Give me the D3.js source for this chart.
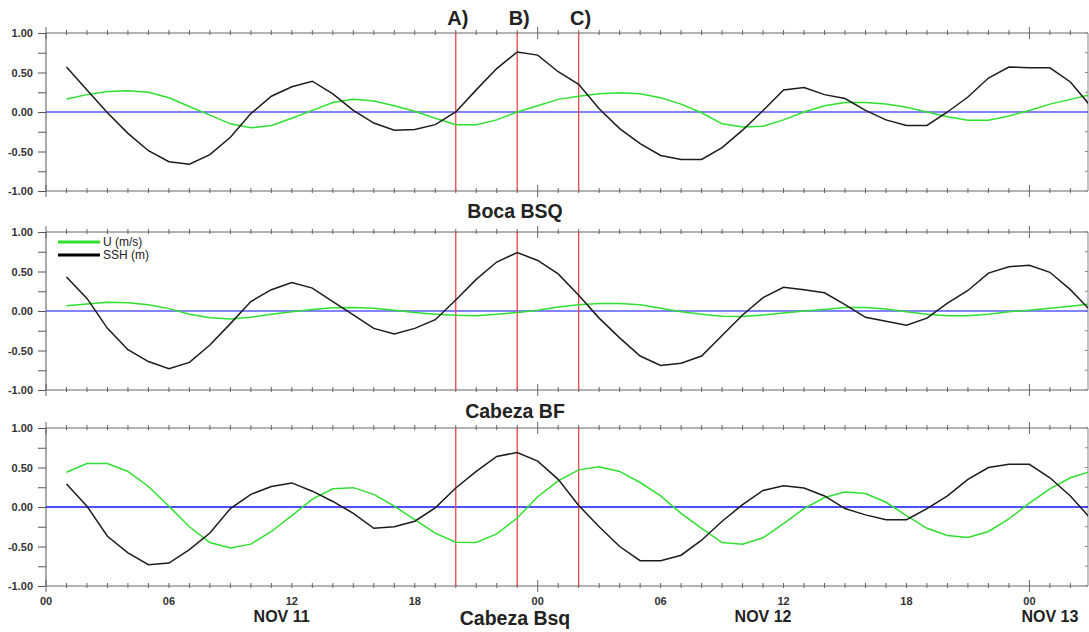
<!DOCTYPE html>
<html lang='en'>
  <head>
    <meta charset='utf-8'>
    <title>U and SSH - Boca BSQ / Cabeza BF / Cabeza Bsq</title>
    <script type='text/javascript' src='https://cdn.jsdelivr.net/npm/d3@7'></script>
    <style type='text/css'>
    body{ margin: 0; background: #fff; }
    svg{ font-family: 'Liberation Sans', Arial, sans-serif; }
    .axis path{ stroke: #555; }
    .axis line{ stroke: #555; }
    .axis text{ font-size: 11px; font-weight: bold; fill: #333; }
    </style>
  </head>
  <body>
    <script type='text/javascript'>

    var w = 1089;
    var h = 632;

    // hourly samples, hour 1 .. hour 51 after NOV 11 00
    var hours = d3.range(1, 52);

    var sshBoca = [0.57, 0.28, -0.01, -0.27, -0.49, -0.63, -0.66, -0.54, -0.32, -0.02,
                   0.20, 0.32, 0.39, 0.23, 0.02, -0.14, -0.23, -0.22, -0.16, 0.00,
                   0.28, 0.55, 0.76, 0.72, 0.51, 0.35, 0.04, -0.21, -0.40, -0.55,
                   -0.60, -0.60, -0.45, -0.23, 0.02, 0.28, 0.31, 0.22, 0.17, 0.02,
                   -0.10, -0.17, -0.17, 0.00, 0.19, 0.43, 0.57, 0.56, 0.56, 0.38, 0.07];
    var uBoca = [0.165, 0.22, 0.26, 0.27, 0.25, 0.18, 0.07, -0.04, -0.15, -0.20,
                 -0.17, -0.08, 0.02, 0.12, 0.16, 0.14, 0.08, 0.01, -0.08, -0.16,
                 -0.16, -0.10, 0.00, 0.08, 0.16, 0.20, 0.23, 0.245, 0.23, 0.18,
                 0.10, -0.01, -0.15, -0.19, -0.18, -0.10, 0.00, 0.08, 0.12, 0.12,
                 0.10, 0.06, 0.00, -0.06, -0.105, -0.105, -0.05, 0.02, 0.10, 0.16, 0.22];

    var sshBF = [0.43, 0.16, -0.22, -0.49, -0.64, -0.73, -0.65, -0.43, -0.16, 0.12,
                 0.27, 0.36, 0.29, 0.12, -0.05, -0.22, -0.29, -0.22, -0.11, 0.14,
                 0.40, 0.62, 0.74, 0.64, 0.47, 0.20, -0.09, -0.34, -0.57, -0.69,
                 -0.66, -0.57, -0.31, -0.05, 0.17, 0.30, 0.27, 0.23, 0.08, -0.08,
                 -0.13, -0.18, -0.09, 0.10, 0.26, 0.48, 0.56, 0.58, 0.49, 0.27, 0.00];
    var uBF = [0.065, 0.09, 0.11, 0.105, 0.08, 0.03, -0.04, -0.085, -0.10, -0.08,
               -0.04, -0.01, 0.02, 0.04, 0.045, 0.035, 0.01, -0.02, -0.04, -0.055,
               -0.06, -0.04, -0.02, 0.01, 0.05, 0.08, 0.095, 0.095, 0.08, 0.035,
               -0.01, -0.04, -0.065, -0.07, -0.05, -0.025, 0.00, 0.02, 0.045, 0.045,
               0.025, -0.01, -0.04, -0.06, -0.06, -0.04, -0.01, 0.01, 0.035, 0.06, 0.09];

    var sshBsq = [0.29, 0.01, -0.37, -0.58, -0.73, -0.71, -0.54, -0.33, -0.02, 0.16,
                  0.26, 0.305, 0.20, 0.07, -0.08, -0.27, -0.25, -0.18, -0.01, 0.24,
                  0.45, 0.64, 0.69, 0.58, 0.35, 0.02, -0.25, -0.50, -0.68, -0.68,
                  -0.61, -0.42, -0.18, 0.03, 0.21, 0.27, 0.24, 0.14, -0.02, -0.10,
                  -0.16, -0.16, -0.02, 0.14, 0.35, 0.50, 0.54, 0.54, 0.37, 0.14, -0.15];
    var uBsq = [0.44, 0.55, 0.55, 0.45, 0.26, 0.01, -0.25, -0.45, -0.52, -0.47,
                -0.31, -0.11, 0.10, 0.23, 0.245, 0.16, 0.01, -0.16, -0.33, -0.445,
                -0.45, -0.34, -0.14, 0.13, 0.33, 0.47, 0.51, 0.45, 0.31, 0.14,
                -0.08, -0.27, -0.45, -0.47, -0.39, -0.21, -0.02, 0.12, 0.19, 0.17,
                0.06, -0.11, -0.27, -0.36, -0.385, -0.31, -0.15, 0.05, 0.23, 0.37, 0.45];

    var titles = ['Boca BSQ', 'Cabeza BF', 'Cabeza Bsq'];
    var sshSeries = [sshBoca, sshBF, sshBsq];
    var uSeries = [uBoca, uBF, uBsq];

    // red event markers (hours) and their labels
    var markerHours = [20, 23, 26];
    var markerLabels = ['A)', 'B)', 'C)'];

    var hourTicks = [0, 6, 12, 18, 24, 30, 36, 42, 48];
    var hourTickLabels = ['00', '06', '12', '18', '00', '06', '12', '18', '00'];
    var dateHours = [11.5, 35, 49];
    var dateLabels = ['NOV 11', 'NOV 12', 'NOV 13'];

    var yTicks = [-1, -0.75, -0.5, -0.25, 0, 0.25, 0.5, 0.75, 1];
    var yLabelled = [-1, -0.5, 0, 0.5, 1];

    var legendNames = ['U (m/s)', 'SSH (m)'];

    var green = '#2fe02f';
    var zeroBlue = ['#5a5aff', '#5a5aff', '#1414ff'];

    var left = 46, right = 1088;
    var panelTop = [33, 232, 428];
    var panelH = 158;
    var titleGap = [27, 28, 39];

    var svg = d3.select('body')
                .append('svg')
                .attr('width', w)
                .attr('height', h);

    var xScale = d3.scaleLinear()
                   .domain([0, 50.86])
                   .range([left, right]);

    svg.append('defs').append('clipPath')
       .attr('id', 'plotclip')
       .append('rect')
       .attr('x', left)
       .attr('y', 0)
       .attr('width', right - left)
       .attr('height', h);

    var allHours = d3.range(0, 51);

    panelTop.forEach(function(top, p){
      var yScale = d3.scaleLinear()
                     .domain([-1, 1])
                     .range([top + panelH, top]);

      var g = svg.append('g');

      // top and bottom frame with hourly ticks
      [top, top + panelH].forEach(function(yy){
        g.append('line')
         .attr('x1', left).attr('x2', right)
         .attr('y1', yy).attr('y2', yy)
         .attr('stroke', '#666').attr('stroke-width', 1);
        g.selectAll(null)
         .data(allHours)
         .enter()
         .append('line')
         .attr('x1', function(d){ return xScale(d); })
         .attr('x2', function(d){ return xScale(d); })
         .attr('y1', function(d){ return yy - (d % 24 === 0 ? 6 : 3); })
         .attr('y2', function(d){ return yy + (d % 24 === 0 ? 6 : 2); })
         .attr('stroke', '#666');
      });

      // right frame
      g.append('line')
       .attr('x1', right).attr('x2', right)
       .attr('y1', top).attr('y2', top + panelH)
       .attr('stroke', '#888');
      g.selectAll(null)
       .data(yTicks)
       .enter()
       .append('line')
       .attr('x1', right - 3).attr('x2', right)
       .attr('y1', function(d){ return yScale(d); })
       .attr('y2', function(d){ return yScale(d); })
       .attr('stroke', '#888');

      // left axis
      var yAxis = d3.axisLeft(yScale)
                    .tickValues(yTicks)
                    .tickSize(8)
                    .tickPadding(5)
                    .tickFormat(function(d){
                      return yLabelled.indexOf(d) >= 0 ? d.toFixed(2) : '';
                    });
      g.append('g')
       .attr('class', 'axis')
       .attr('transform', 'translate(' + left + ',0)')
       .call(yAxis)
       .call(function(a){ a.select('.domain').attr('d', 'M0,' + top + 'V' + (top + panelH)); });

      // zero line
      g.append('line')
       .attr('x1', left).attr('x2', right)
       .attr('y1', yScale(0)).attr('y2', yScale(0))
       .attr('stroke', zeroBlue[p]).attr('stroke-width', 1.3);

      // red markers
      g.selectAll(null)
       .data(markerHours)
       .enter()
       .append('line')
       .attr('x1', function(d){ return xScale(d); })
       .attr('x2', function(d){ return xScale(d); })
       .attr('y1', top).attr('y2', top + panelH)
       .attr('stroke', '#e8484a').attr('stroke-width', 1.3);

      var line = d3.line()
                   .x(function(d, i){ return xScale(hours[i]); })
                   .y(function(d){ return yScale(d); });

      var lines = g.append('g').attr('clip-path', 'url(#plotclip)');
      lines.append('path')
           .datum(uSeries[p])
           .attr('d', line)
           .attr('fill', 'none')
           .attr('stroke', green)
           .attr('stroke-width', 1.5);
      lines.append('path')
           .datum(sshSeries[p])
           .attr('d', line)
           .attr('fill', 'none')
           .attr('stroke', '#1c1c1c')
           .attr('stroke-width', 1.5);

      // title below the panel
      svg.append('text')
         .attr('x', 515)
         .attr('y', top + panelH + titleGap[p])
         .attr('text-anchor', 'middle')
         .attr('font-size', '19.5px')
         .attr('font-weight', 'bold')
         .attr('fill', '#222')
         .text(titles[p]);
    });

    // marker labels on top
    svg.selectAll('.marker-label')
       .data(markerHours)
       .enter()
       .append('text')
       .attr('class', 'marker-label')
       .attr('x', function(d){ return xScale(d) + 2; })
       .attr('y', 25)
       .attr('text-anchor', 'middle')
       .attr('font-size', '20px')
       .attr('font-weight', 'bold')
       .attr('fill', '#222')
       .text(function(d, i){ return markerLabels[i]; });

    // legend in the second panel
    var legend = svg.append('g')
                    .attr('transform', 'translate(58,' + (panelTop[1] + 10) + ')');
    [green, '#000'].forEach(function(c, i){
      legend.append('line')
            .attr('x1', 0).attr('x2', 42)
            .attr('y1', i * 13).attr('y2', i * 13)
            .attr('stroke', c).attr('stroke-width', 3);
      legend.append('text')
            .attr('x', 45)
            .attr('y', i * 13 + 4)
            .attr('font-size', '12px')
            .attr('fill', '#222')
            .text(legendNames[i]);
    });

    // hour labels and dates under the last panel
    var bottom = panelTop[2] + panelH;
    svg.selectAll('.hour-label')
       .data(hourTicks)
       .enter()
       .append('text')
       .attr('class', 'hour-label')
       .attr('x', function(d){ return xScale(d); })
       .attr('y', bottom + 19)
       .attr('text-anchor', 'middle')
       .attr('font-size', '11px')
       .attr('font-weight', 'bold')
       .attr('fill', '#333')
       .text(function(d, i){ return hourTickLabels[i]; });

    svg.selectAll('.date-label')
       .data(dateHours)
       .enter()
       .append('text')
       .attr('class', 'date-label')
       .attr('x', function(d){ return xScale(d); })
       .attr('y', bottom + 36)
       .attr('text-anchor', 'middle')
       .attr('font-size', '16px')
       .attr('font-weight', 'bold')
       .attr('fill', '#222')
       .text(function(d, i){ return dateLabels[i]; });

    </script>
  </body>
</html>
